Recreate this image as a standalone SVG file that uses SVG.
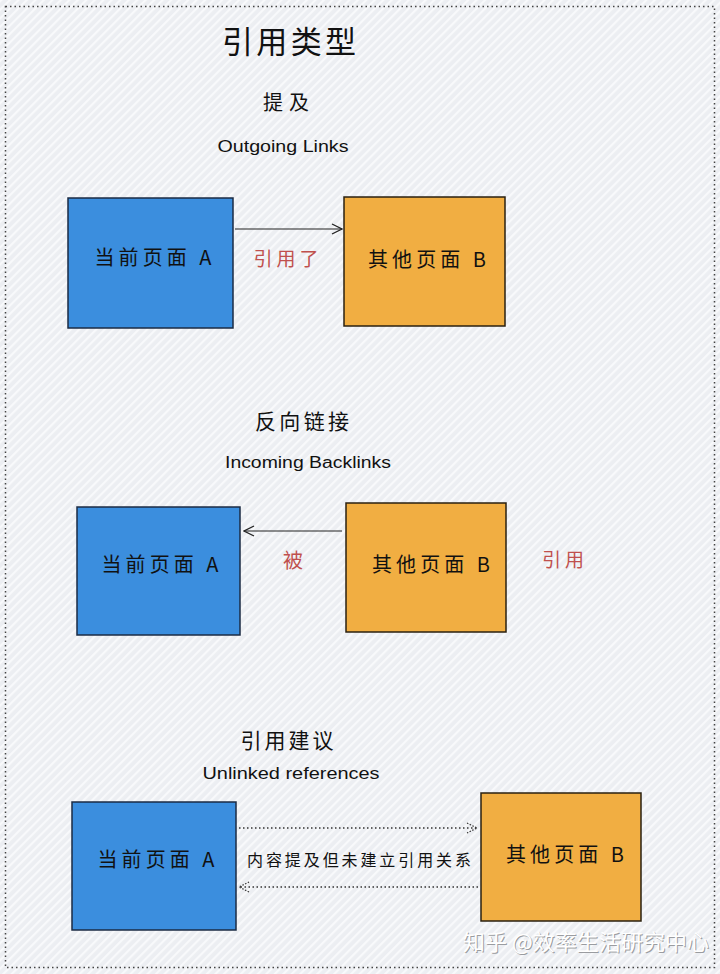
<svg xmlns="http://www.w3.org/2000/svg" width="720" height="974" viewBox="0 0 720 974">
<defs>
<pattern id="hatch" width="6" height="6" patternUnits="userSpaceOnUse" patternTransform="rotate(-45)">
<rect width="6" height="6" fill="#eceef2"/>
<rect x="0" y="0" width="6" height="2.2" fill="#f8f9fb"/>
</pattern>
<marker id="open" viewBox="0 0 12 12" refX="11" refY="6" markerWidth="12" markerHeight="12" markerUnits="userSpaceOnUse" orient="auto">
<path d="M1,1 L11,6 L1,11" fill="none" stroke="#222" stroke-width="1.3"/>
</marker>
<marker id="openDot" viewBox="0 0 12 12" refX="11" refY="6" markerWidth="12" markerHeight="12" markerUnits="userSpaceOnUse" orient="auto">
<path d="M1,1 L11,6 L1,11" fill="none" stroke="#333" stroke-width="1.2" stroke-dasharray="1.5 1.5"/>
</marker>
</defs>
<style>
.cjk{font-family:"Noto Sans CJK SC","Noto Sans",sans-serif;fill:#111;}
.lat{font-family:"Liberation Sans","Noto Sans",sans-serif;fill:#111;}
.blue{fill:#3b8ede;stroke:#1b2b44;stroke-width:1.5;}
.orange{fill:#f1ae42;stroke:#2a2010;stroke-width:1.5;}
.red{fill:#c0504d;}
.solid{fill:none;stroke:#222;stroke-width:1.2;}
.dot{fill:none;stroke:#333;stroke-width:1.4;stroke-dasharray:1.5 2.5;}
</style>
<rect x="0" y="0" width="720" height="974" fill="url(#hatch)"/>
<rect x="5.5" y="6.5" width="709" height="961" fill="none" stroke="#444" stroke-width="1.5" stroke-dasharray="1.5 3"/>

<g id="titles">
<text class="cjk" x="289" y="53" font-size="31" text-anchor="middle" textLength="134" lengthAdjust="spacing">引用类型</text>
<text class="cjk" x="286" y="110" font-size="20" text-anchor="middle" textLength="46" lengthAdjust="spacing">提及</text>
<text class="lat" x="283" y="152" font-size="16" text-anchor="middle" textLength="131" lengthAdjust="spacingAndGlyphs">Outgoing Links</text>
<text class="cjk" x="302" y="429" font-size="21" text-anchor="middle" textLength="94" lengthAdjust="spacing">反向链接</text>
<text class="lat" x="308" y="468" font-size="16" text-anchor="middle" textLength="166" lengthAdjust="spacingAndGlyphs">Incoming Backlinks</text>
<text class="cjk" x="287" y="748" font-size="21" text-anchor="middle" textLength="93" lengthAdjust="spacing">引用建议</text>
<text class="lat" x="291" y="779" font-size="16" text-anchor="middle" textLength="177" lengthAdjust="spacingAndGlyphs">Unlinked references</text>
</g>

<g id="connectors">
<line class="solid" x1="235" y1="229" x2="342" y2="229" marker-end="url(#open)"/>
<line class="solid" x1="342" y1="531" x2="244" y2="531" marker-end="url(#open)"/>
<line class="dot" x1="239" y1="828" x2="477" y2="828" marker-end="url(#openDot)"/>
<line class="dot" x1="478" y1="887" x2="239" y2="887" marker-end="url(#openDot)"/>
<text class="cjk red" x="286" y="266" font-size="19" text-anchor="middle" textLength="65" lengthAdjust="spacing">引用了</text>
<text class="cjk red" x="293" y="568" font-size="20" text-anchor="middle">被</text>
<text class="cjk red" x="563" y="567" font-size="19" text-anchor="middle" textLength="42" lengthAdjust="spacing">引用</text>
<text class="cjk" x="359" y="866" font-size="16" text-anchor="middle" textLength="224" lengthAdjust="spacing">内容提及但未建立引用关系</text>
</g>

<g id="n1a">
<rect class="blue" x="68" y="198" width="165" height="130"/>
<text class="cjk" x="153" y="265" font-size="20" text-anchor="middle" textLength="117" lengthAdjust="spacing">当前页面 A</text>
</g>
<g id="n1b">
<rect class="orange" x="344" y="197" width="161" height="129"/>
<text class="cjk" x="427" y="267" font-size="20" text-anchor="middle" textLength="118" lengthAdjust="spacing">其他页面 B</text>
</g>
<g id="n2a">
<rect class="blue" x="77" y="507" width="163" height="128"/>
<text class="cjk" x="160" y="572" font-size="20" text-anchor="middle" textLength="117" lengthAdjust="spacing">当前页面 A</text>
</g>
<g id="n2b">
<rect class="orange" x="346" y="503" width="160" height="129"/>
<text class="cjk" x="431" y="572" font-size="20" text-anchor="middle" textLength="118" lengthAdjust="spacing">其他页面 B</text>
</g>
<g id="n3a">
<rect class="blue" x="72" y="802" width="164" height="128"/>
<text class="cjk" x="156" y="867" font-size="20" text-anchor="middle" textLength="117" lengthAdjust="spacing">当前页面 A</text>
</g>
<g id="n3b">
<rect class="orange" x="481" y="793" width="160" height="128"/>
<text class="cjk" x="565" y="862" font-size="20" text-anchor="middle" textLength="118" lengthAdjust="spacing">其他页面 B</text>
</g>

<g id="watermark">
<text x="587" y="951" font-size="22" text-anchor="middle" font-family="Noto Sans CJK SC, sans-serif" fill="#9a9ca0" textLength="246" lengthAdjust="spacing">知乎 @效率生活研究中心</text>
<text x="586" y="950" font-size="22" text-anchor="middle" font-family="Noto Sans CJK SC, sans-serif" fill="#ffffff" textLength="246" lengthAdjust="spacing">知乎 @效率生活研究中心</text>
</g>
</svg>
